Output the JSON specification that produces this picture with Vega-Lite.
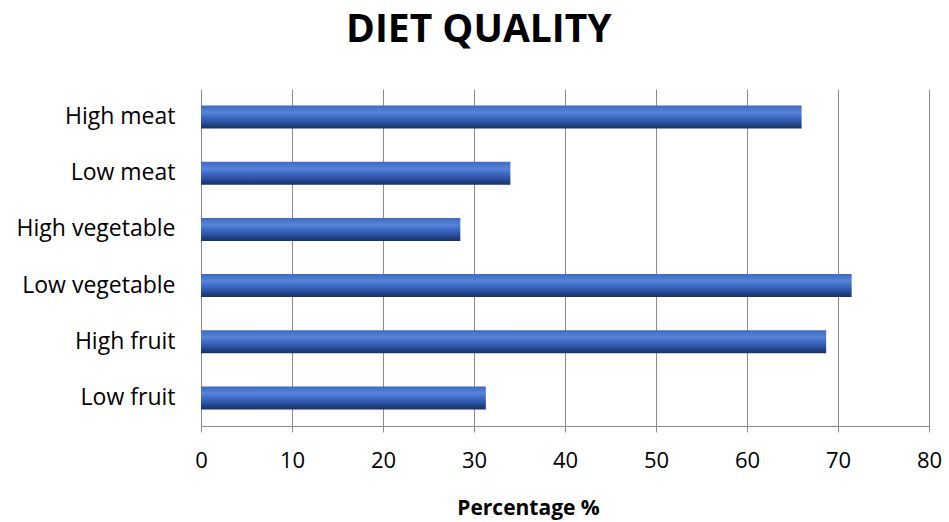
{
  "$schema": "https://vega.github.io/schema/vega-lite/v6.json",
  "width": 728,
  "height": 337,
  "autosize": {"type": "none"},
  "padding": {"left": 201, "top": 89, "right": 20, "bottom": 96},
  "background": "white",
  "title": {
    "text": "DIET QUALITY",
    "font": "Open Sans",
    "fontSize": 39,
    "fontWeight": "bold",
    "color": "#000000",
    "anchor": "middle",
    "frame": "bounds",
    "baseline": "bottom",
    "offset": 0
  },
  "data": {
    "values": [
      {"category": "High meat", "value": 66.0},
      {"category": "Low meat", "value": 34.0},
      {"category": "High vegetable", "value": 28.5},
      {"category": "Low vegetable", "value": 71.5},
      {"category": "High fruit", "value": 68.7},
      {"category": "Low fruit", "value": 31.3}
    ]
  },
  "mark": {
    "type": "bar",
    "color": {
      "gradient": "linear",
      "x1": 0, "y1": 0, "x2": 0, "y2": 1,
      "stops": [
        {"offset": 0, "color": "#3f68c4"},
        {"offset": 0.3, "color": "#5683dc"},
        {"offset": 0.7, "color": "#2c54a8"},
        {"offset": 1, "color": "#182f66"}
      ]
    }
  },
  "encoding": {
    "y": {
      "field": "category",
      "type": "nominal",
      "sort": null,
      "scale": {"paddingInner": 0.59, "paddingOuter": 0.295},
      "axis": {
        "title": null,
        "domain": false,
        "ticks": false,
        "grid": false,
        "labelFont": "Open Sans",
        "labelFontSize": 23,
        "labelColor": "#000000",
        "labelPadding": 26,
        "labelExpr": "datum.label == 'Low vegetable' || datum.label == 'High fruit' || datum.label == 'Low fruit' ? datum.label + '\u00a0' : datum.label"
      }
    },
    "x": {
      "field": "value",
      "type": "quantitative",
      "scale": {"domain": [0, 80], "nice": false},
      "axis": {
        "values": [0, 10, 20, 30, 40, 50, 60, 70, 80],
        "title": "Percentage %",
        "titleFont": "Open Sans",
        "titleFontSize": 21,
        "titleFontWeight": "bold",
        "titleColor": "#000000",
        "titlePadding": 26,
        "titleX": 327,
        "titleAlign": "center",
        "labelFont": "Open Sans",
        "labelFontSize": 22,
        "labelColor": "#000000",
        "labelPadding": 18,
        "labelFlush": false,
        "labelOverlap": false,
        "tickSize": 6,
        "tickColor": "#8c8c8c",
        "domainColor": "#8c8c8c",
        "grid": true,
        "gridColor": "#8c8c8c",
        "gridWidth": 1
      }
    }
  },
  "config": {"view": {"stroke": null}}
}
